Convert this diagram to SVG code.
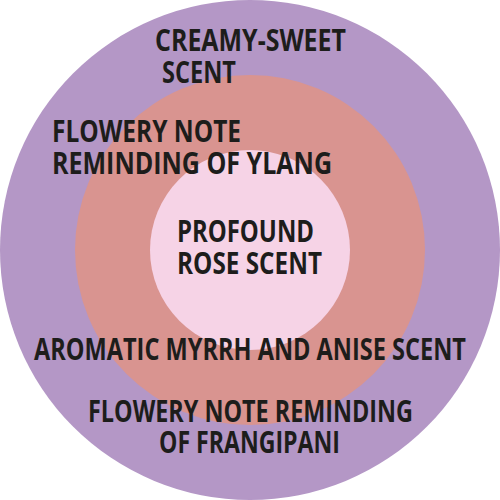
<svg xmlns="http://www.w3.org/2000/svg" width="500" height="500" viewBox="0 0 500 500">
<style>
text{font-family:"Open Sans","Liberation Sans",sans-serif;font-weight:700;font-size:30px;fill:#1d1d1b}
</style>
<g id="outer"><circle cx="250" cy="250" r="250" fill="#b497c6"/></g>
<g id="middle"><circle cx="250" cy="250" r="175" fill="#d99490"/></g>
<g id="inner"><circle cx="250" cy="250" r="100" fill="#f6d3e6"/></g>
<g id="labels">
<text x="155" y="51" textLength="191" lengthAdjust="spacingAndGlyphs">CREAMY-SWEET</text>
<text x="162" y="83" textLength="74" lengthAdjust="spacingAndGlyphs">SCENT</text>
<text x="52" y="142" textLength="189" lengthAdjust="spacingAndGlyphs">FLOWERY NOTE</text>
<text x="52" y="174" textLength="280" lengthAdjust="spacingAndGlyphs">REMINDING OF YLANG</text>
<text x="177" y="242" textLength="137" lengthAdjust="spacingAndGlyphs">PROFOUND</text>
<text x="177" y="274" textLength="145" lengthAdjust="spacingAndGlyphs">ROSE SCENT</text>
<text x="34" y="360" textLength="432" lengthAdjust="spacingAndGlyphs">AROMATIC MYRRH AND ANISE SCENT</text>
<text x="88" y="422" textLength="325" lengthAdjust="spacingAndGlyphs">FLOWERY NOTE REMINDING</text>
<text x="159" y="453" textLength="181" lengthAdjust="spacingAndGlyphs">OF FRANGIPANI</text>
</g>
</svg>
